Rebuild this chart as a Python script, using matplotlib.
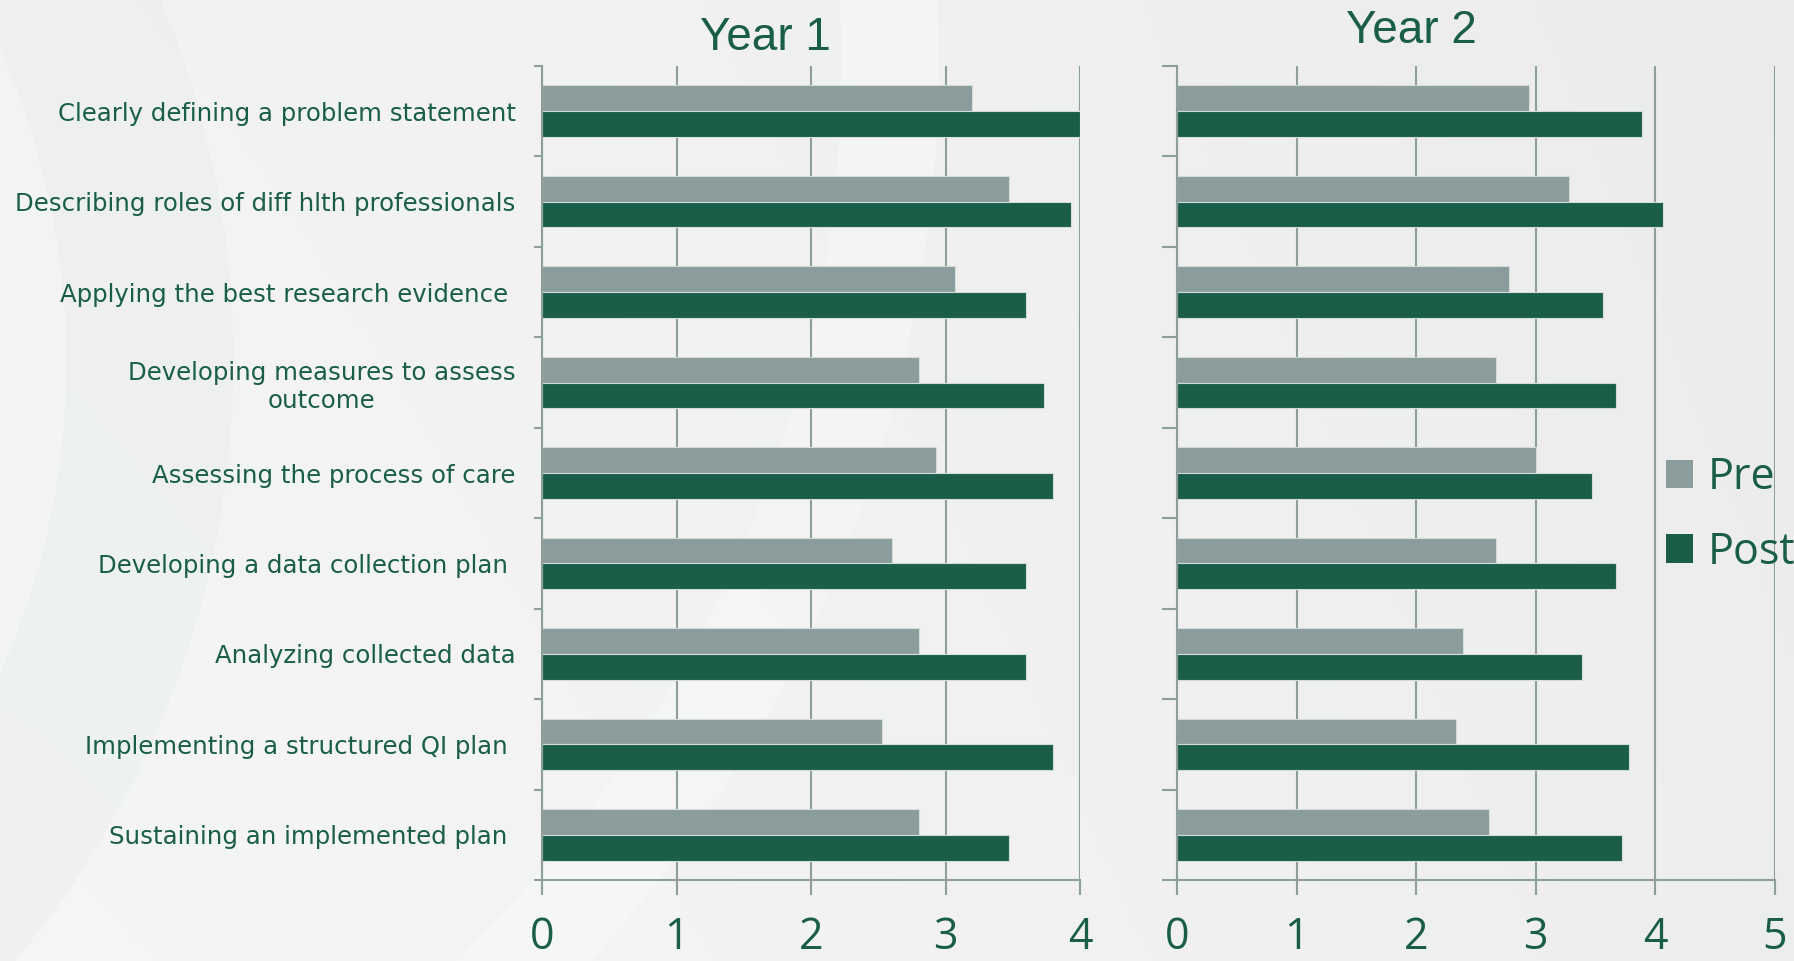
import numpy as np
import matplotlib
matplotlib.use("Agg")
import matplotlib.pyplot as plt
from matplotlib.patches import Patch, Ellipse

# ---------------------------------------------------------------------------
# Self-rated QI skills, pre vs post, two cohorts
# ---------------------------------------------------------------------------
skills = [
    "Clearly defining a problem statement",
    "Describing roles of diff hlth professionals",
    "Applying the best research evidence ",
    "Developing measures to assess\noutcome",
    "Assessing the process of care",
    "Developing a data collection plan ",
    "Analyzing collected data",
    "Implementing a structured QI plan ",
    "Sustaining an implemented plan ",
]
year1_pre  = [3.20, 3.47, 3.07, 2.80, 2.93, 2.60, 2.80, 2.53, 2.80]
year1_post = [4.00, 3.93, 3.60, 3.73, 3.80, 3.60, 3.60, 3.80, 3.47]
year2_pre  = [2.94, 3.28, 2.78, 2.67, 3.00, 2.67, 2.39, 2.33, 2.61]
year2_post = [3.89, 4.06, 3.56, 3.67, 3.47, 3.67, 3.39, 3.78, 3.72]
series     = ["Pre", "Post"]
panels     = ["Year 1", "Year 2"]
xmax       = [4, 5]

GREEN = "#1a5e4a"
GREY  = "#8a9c9c"
GRID  = "#8e9e9a"
W, H  = 1794, 961

fig = plt.figure(figsize=(W / 100, H / 100), dpi=100)

# soft slide background: light grey wash with a pale swoosh
bg = fig.add_axes([0, 0, 1, 1], zorder=-10)
xx = np.linspace(0, 1, 400)[None, :]
yy = np.linspace(0, 1, 200)[:, None]
shade = 0.962 - 0.03 * xx ** 1.3 - 0.008 * yy
img = np.dstack([shade - 0.003, shade, shade - 0.002])
bg.imshow(img, extent=[0, W, 0, H], aspect="auto", origin="lower")
bg.add_patch(Ellipse((-400, 900), 2580, 2580, fill=False,
                     lw=70, ec="#fcfcfc", alpha=0.35))
bg.add_patch(Ellipse((-700, 600), 1700, 1700, fill=False,
                     lw=120, ec="#e2ebe8", alpha=0.3))
bg.set_xlim(0, W)
bg.set_ylim(0, H)
bg.axis("off")

y = np.arange(len(skills))
bar_h = 0.285
boxes = [
    [542 / W, 1 - 880 / H, 538 / W, 814 / H],
    [1177 / W, 1 - 880 / H, 598 / W, 814 / H],
]
data = [(year1_pre, year1_post), (year2_pre, year2_post)]
tick_len = [5.8, 10.8]

axes = []
for i, box in enumerate(boxes):
    ax = fig.add_axes(box)
    ax.set_facecolor("none")
    pre, post = data[i]
    ax.barh(y - bar_h / 2, pre, height=bar_h, color=GREY,
            edgecolor="#d3dcd9", linewidth=0.8, label=series[0])
    ax.barh(y + bar_h / 2, post, height=bar_h, color=GREEN,
            edgecolor="#d3dcd9", linewidth=0.8, label=series[1])

    ax.set_xlim(0, xmax[i])
    ax.set_ylim(len(skills) - 0.5, -0.5)
    ax.set_axisbelow(True)
    ax.xaxis.grid(True, color=GRID, lw=1.5)
    ax.set_xticks(range(xmax[i] + 1))
    ax.tick_params(axis="x", length=10.8, width=1.5, color=GRID,
                   labelsize=31, labelcolor=GREEN, pad=15)
    for lbl in ax.get_xticklabels():
        lbl.set_fontfamily(["Open Sans", "DejaVu Sans"])

    ax.set_yticks(y)
    ax.set_yticks(np.arange(-0.5, len(skills)), minor=True)
    ax.tick_params(axis="y", which="major", length=0, pad=19)
    ax.tick_params(axis="y", which="minor", length=tick_len[i], width=1.5,
                   color=GRID)
    if i == 0:
        ax.set_yticklabels(skills, fontsize=17.6, color=GREEN,
                           family="DejaVu Sans")
        for lbl in ax.get_yticklabels():
            lbl.set_multialignment("center")
    else:
        ax.set_yticklabels([])

    for side in ("top", "right"):
        ax.spines[side].set_visible(False)
    for side in ("left", "bottom"):
        ax.spines[side].set_color(GRID)
        ax.spines[side].set_linewidth(1.5)
    axes.append(ax)

# panel titles
fig.text(765 / W, 1 - 38 / H, panels[0], ha="center", va="center",
         fontsize=33, color=GREEN, family="Liberation Sans")
fig.text(1411 / W, 1 - 31 / H, panels[1], ha="center", va="center",
         fontsize=33, color=GREEN, family="Liberation Sans")

handles = [Patch(facecolor=GREY), Patch(facecolor=GREEN)]
leg = fig.legend(handles, series, loc="center left",
                 bbox_to_anchor=(1666 / W, 1 - 515 / H),
                 bbox_transform=fig.transFigure, frameon=False,
                 borderpad=0, borderaxespad=0, handlelength=0.63,
                 handleheight=0.63, handletextpad=0.33, labelspacing=0.7,
                 prop={"family": ["Open Sans", "DejaVu Sans"], "size": 31})
for t in leg.get_texts():
    t.set_color(GREEN)

fig.savefig("out.png", dpi=100)
